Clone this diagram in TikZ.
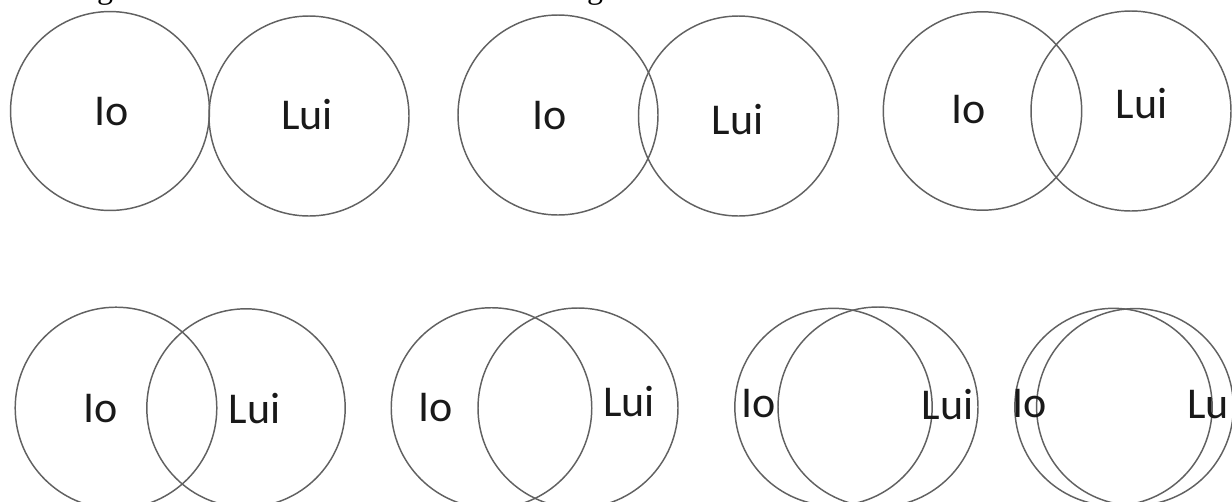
\documentclass[tikz,border=0pt]{standalone}
\usepackage{fontspec}
\setmainfont{Carlito}
\newfontfamily\capfont{Liberation Serif}
\begin{document}
\begin{tikzpicture}[x=0.75pt,y=-0.75pt,
  ven/.style={draw=black!62,line width=1.1pt},
  lbl/.style={anchor=base,inner sep=0pt,font=\fontsize{33}{36}\selectfont,text=black!90},
  capg/.style={anchor=base,inner sep=0pt,font=\capfont\fontsize{24}{26}\selectfont}]
\useasboundingbox (0,0) rectangle (1232,501);
\clip (0,0) rectangle (1232,501);
% cut-off caption fragments
\node[capg] (g1) at (105,-2) {g};
\node[capg] (g2) at (595,-2) {g};
% top row
\draw[ven] (110,111) circle[radius=74.6pt];
\draw[ven] (309,116) circle[radius=75pt];
\node[lbl] (t1a) at (112,125) {Io};
\node[lbl] (t1b) at (307,129) {Lui};
\draw[ven] (558,115) circle[radius=75pt];
\draw[ven] (738.5,116) circle[radius=75pt];
\node[lbl] (t2a) at (549.5,129) {Io};
\node[lbl] (t2b) at (737.5,134) {Lui};
\draw[ven] (982.5,111) circle[radius=74.4pt];
\draw[ven] (1131,111) circle[radius=75pt];
\node[lbl] (t3a) at (969,123) {Io};
\node[lbl] (t3b) at (1141.5,118) {Lui};
% bottom row
\draw[ven] (116,408) circle[radius=75.6pt];
\draw[ven] (246,408) circle[radius=74.4pt];
\node[lbl] (b1a) at (101,422) {Io};
\node[lbl] (b1b) at (254.5,423) {Lui};
\draw[ven] (491.5,408) circle[radius=75.2pt];
\draw[ven] (578,408) circle[radius=75pt];
\node[lbl] (b2a) at (436,421) {Io};
\node[lbl] (b2b) at (629,416) {Lui};
\draw[ven] (833.5,407) circle[radius=74pt];
\draw[ven] (878,407) circle[radius=75pt];
\node[lbl] (b3a) at (759,417) {Io};
\node[lbl] (b3b) at (947.5,419) {Lui};
\draw[ven] (1113.5,407) circle[radius=74pt];
\draw[ven] (1135,407) circle[radius=73.8pt];
\node[lbl] (b4a) at (1030,417) {Io};
\node[lbl,anchor=base west] (b4b) at (1187,418) {Lu};
\end{tikzpicture}
\end{document}
